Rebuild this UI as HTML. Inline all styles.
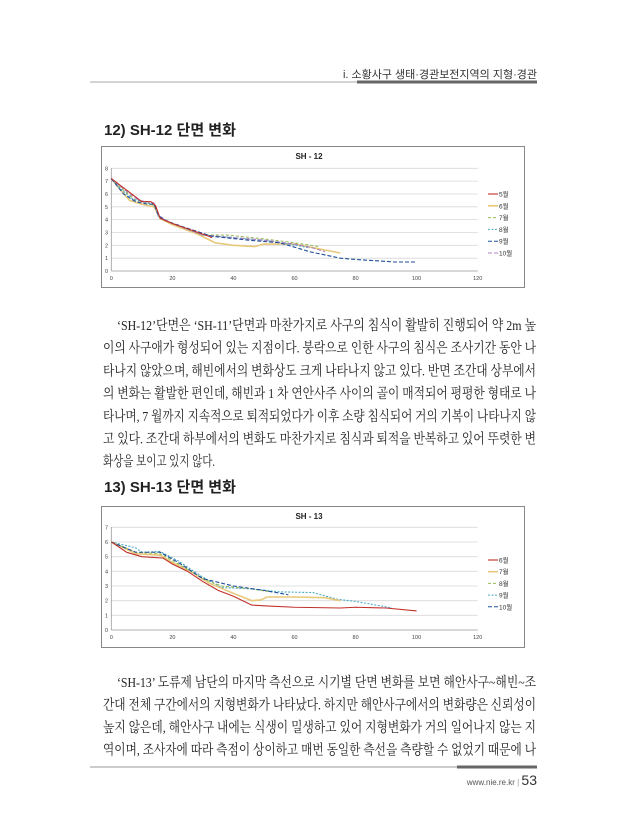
<!DOCTYPE html>
<html><head><meta charset="utf-8">
<style>
html,body{margin:0;padding:0;background:#fff;}
body{width:619px;height:840px;position:relative;overflow:hidden;}
.t{position:absolute;white-space:nowrap;}
.sans{font-family:"Liberation Sans","Noto Sans CJK KR",sans-serif;}
.h{position:absolute;left:104px;font-size:15px;font-weight:bold;color:#222;font-family:"Liberation Sans","Noto Sans CJK KR",sans-serif;}
</style></head><body>
<svg width="619" height="840" style="position:absolute;left:0;top:0" xmlns="http://www.w3.org/2000/svg">
<line x1="90" y1="82" x2="537" y2="82" stroke="#aaa" stroke-width="1"/>
<line x1="357" y1="82" x2="537" y2="82" stroke="#666" stroke-width="3"/>
<line x1="90" y1="767" x2="537" y2="767" stroke="#999" stroke-width="1"/>
<line x1="457" y1="767" x2="537" y2="767" stroke="#666" stroke-width="3"/>

<g font-family="Liberation Serif,'Noto Serif CJK SC','Noto Serif CJK KR',serif" font-size="14" fill="#222" lengthAdjust="spacingAndGlyphs">
<text x="117" y="330" textLength="419" lengthAdjust="spacingAndGlyphs">‘SH-12’단면은 ‘SH-11’단면과 마찬가지로 사구의 침식이 활발히 진행되어 약 2m 높</text>
<text x="103" y="352.7" textLength="433" lengthAdjust="spacingAndGlyphs">이의 사구애가 형성되어 있는 지점이다. 붕락으로 인한 사구의 침식은 조사기간 동안 나</text>
<text x="103" y="375.4" textLength="433" lengthAdjust="spacingAndGlyphs">타나지 않았으며, 해빈에서의 변화상도 크게 나타나지 않고 있다. 반면 조간대 상부에서</text>
<text x="103" y="398.1" textLength="433" lengthAdjust="spacingAndGlyphs">의 변화는 활발한 편인데, 해빈과 1 차 연안사주 사이의 골이 매적되어 평평한 형태로 나</text>
<text x="103" y="420.8" textLength="433" lengthAdjust="spacingAndGlyphs">타나며, 7 월까지 지속적으로 퇴적되었다가 이후 소량 침식되어 거의 기복이 나타나지 않</text>
<text x="103" y="443.5" textLength="433" lengthAdjust="spacingAndGlyphs">고 있다. 조간대 하부에서의 변화도 마찬가지로 침식과 퇴적을 반복하고 있어 뚜렷한 변</text>
<text x="103" y="466.2" textLength="112" lengthAdjust="spacingAndGlyphs">화상을 보이고 있지 않다.</text>
<text x="117" y="687" textLength="419" lengthAdjust="spacingAndGlyphs">‘SH-13’ 도류제 남단의 마지막 측선으로 시기별 단면 변화를 보면 해안사구~해빈~조</text>
<text x="103" y="709.5" textLength="433" lengthAdjust="spacingAndGlyphs">간대 전체 구간에서의 지형변화가 나타났다. 하지만 해안사구에서의 변화량은 신뢰성이</text>
<text x="103" y="732" textLength="433" lengthAdjust="spacingAndGlyphs">높지 않은데, 해안사구 내에는 식생이 밀생하고 있어 지형변화가 거의 일어나지 않는 지</text>
<text x="103" y="754.5" textLength="433" lengthAdjust="spacingAndGlyphs">역이며, 조사자에 따라 측점이 상이하고 매번 동일한 측선을 측량할 수 없었기 때문에 나</text>
</g>

<!-- Chart 1 -->
<rect x="101.5" y="146.5" width="423" height="141" fill="#fff" stroke="#888"/>
<text x="309" y="159" font-family="Liberation Sans,sans-serif" font-size="8" font-weight="bold" text-anchor="middle" fill="#222">SH - 12</text>
<g stroke="#d8d8d8" stroke-width="0.8">
<line x1="111.3" x2="477.7" y1="168.3" y2="168.3"/><line x1="111.3" x2="477.7" y1="181.1" y2="181.1"/><line x1="111.3" x2="477.7" y1="194" y2="194"/><line x1="111.3" x2="477.7" y1="206.8" y2="206.8"/><line x1="111.3" x2="477.7" y1="219.6" y2="219.6"/><line x1="111.3" x2="477.7" y1="232.5" y2="232.5"/><line x1="111.3" x2="477.7" y1="245.3" y2="245.3"/><line x1="111.3" x2="477.7" y1="258.2" y2="258.2"/>
</g>
<line x1="111.3" y1="168" x2="111.3" y2="271" stroke="#999" stroke-width="0.8"/>
<line x1="111.3" y1="271" x2="477.7" y2="271" stroke="#999" stroke-width="0.8"/>
<g font-family="Liberation Sans,sans-serif" font-size="5.5" fill="#444" text-anchor="end">
<text x="108" y="273">0</text><text x="108" y="260">1</text><text x="108" y="247.3">2</text><text x="108" y="234.5">3</text><text x="108" y="221.6">4</text><text x="108" y="208.8">5</text><text x="108" y="196">6</text><text x="108" y="183.1">7</text><text x="108" y="170.3">8</text>
</g>
<g font-family="Liberation Sans,sans-serif" font-size="5.5" fill="#444" text-anchor="middle">
<text x="111.3" y="280">0</text><text x="172.4" y="280">20</text><text x="233.4" y="280">40</text><text x="294.5" y="280">60</text><text x="355.6" y="280">80</text><text x="416.6" y="280">100</text><text x="477.7" y="280">120</text>
</g>
<g transform="translate(111.3,271) scale(3.053,-12.84)" fill="none" stroke-width="1.1">
<polyline vector-effect="non-scaling-stroke" stroke="#e8c97a" stroke-width="1.6" points="0,7.2 2,6.6 6,5.5 10,5.2 14,5 16,4.1 20,3.6 28,2.9 34,2.2 40,2 47,1.9 50,2.1 60,2.1 75,1.4"/>
<polyline vector-effect="non-scaling-stroke" stroke="#9bbb59" stroke-dasharray="3,2" points="0,7.2 4,6.3 8,5.5 12,5.3 14,5.1 16,4.1 20,3.7 30,2.8 38,2.8 50,2.5 60,2.2 68,1.9"/>
<polyline vector-effect="non-scaling-stroke" stroke="#4bacc6" stroke-dasharray="2,1.5" points="0,7.2 3,6.4 7,5.6 12,5.3 14,5.2 15.5,4.2 20,3.7 30,2.8 40,2.6 50,2.4 58,2.1 65,1.8"/>
<polyline vector-effect="non-scaling-stroke" stroke="#b07fc0" stroke-dasharray="4,2" points="0,7.2 5,6.2 9,5.5 12,5.4 14,5.3 15.5,4.3 20,3.7 30,2.8 40,2.6 50,2.4 60,2.1 66,1.8 70,1.5"/>
<polyline vector-effect="non-scaling-stroke" stroke="#1f4e9a" stroke-dasharray="4,2" points="0,7.2 4,6 8,5.4 12,5.2 14,5.2 15.5,4.3 18,3.9 24,3.4 33,2.7 45,2.4 55,2.2 58,2 65,1.5 75,1 80,0.9 93,0.7 100,0.7"/>
<polyline vector-effect="non-scaling-stroke" stroke="#c0302b" points="0,7.2 10,5.4 13,5.4 14.5,5.1 16,4.1 20,3.7 26,3.2 32,2.7 33,2.6"/>
</g>
<g font-family="Liberation Sans,'Noto Sans CJK KR',sans-serif" font-size="6.5" fill="#333">
<line x1="488" y1="194" x2="498" y2="194" stroke="#c0302b" stroke-width="1.1"/><text x="499" y="196.5">5월</text>
<line x1="488" y1="205.8" x2="498" y2="205.8" stroke="#e8c97a" stroke-width="1.6"/><text x="499" y="208.3">6월</text>
<line x1="488" y1="217.6" x2="498" y2="217.6" stroke="#9bbb59" stroke-dasharray="3,2"/><text x="499" y="220.1">7월</text>
<line x1="488" y1="229.4" x2="498" y2="229.4" stroke="#4bacc6" stroke-dasharray="2,1.5"/><text x="499" y="231.9">8월</text>
<line x1="488" y1="241.2" x2="498" y2="241.2" stroke="#1f4e9a" stroke-dasharray="4,2"/><text x="499" y="243.7">9월</text>
<line x1="488" y1="253" x2="498" y2="253" stroke="#b07fc0" stroke-dasharray="4,2"/><text x="499" y="255.5">10월</text>
</g>

<!-- Chart 2 -->
<rect x="101.5" y="506.5" width="423" height="141" fill="#fff" stroke="#888"/>
<text x="309" y="519" font-family="Liberation Sans,sans-serif" font-size="8" font-weight="bold" text-anchor="middle" fill="#222">SH - 13</text>
<g stroke="#d8d8d8" stroke-width="0.8">
<line x1="111.3" x2="477.7" y1="527.3" y2="527.3"/><line x1="111.3" x2="477.7" y1="542" y2="542"/><line x1="111.3" x2="477.7" y1="556.7" y2="556.7"/><line x1="111.3" x2="477.7" y1="571.3" y2="571.3"/><line x1="111.3" x2="477.7" y1="586" y2="586"/><line x1="111.3" x2="477.7" y1="600.7" y2="600.7"/><line x1="111.3" x2="477.7" y1="615.3" y2="615.3"/>
</g>
<line x1="111.3" y1="527" x2="111.3" y2="630" stroke="#999" stroke-width="0.8"/>
<line x1="111.3" y1="630" x2="477.7" y2="630" stroke="#999" stroke-width="0.8"/>
<g font-family="Liberation Sans,sans-serif" font-size="5.5" fill="#444" text-anchor="end">
<text x="108" y="632">0</text><text x="108" y="617.3">1</text><text x="108" y="602.7">2</text><text x="108" y="588">3</text><text x="108" y="573.3">4</text><text x="108" y="558.7">5</text><text x="108" y="544">6</text><text x="108" y="529.3">7</text>
</g>
<g font-family="Liberation Sans,sans-serif" font-size="5.5" fill="#444" text-anchor="middle">
<text x="111.3" y="639">0</text><text x="172.4" y="639">20</text><text x="233.4" y="639">40</text><text x="294.5" y="639">60</text><text x="355.6" y="639">80</text><text x="416.6" y="639">100</text><text x="477.7" y="639">120</text>
</g>
<g transform="translate(111.3,630) scale(3.053,-14.67)" fill="none" stroke-width="1.1">
<polyline vector-effect="non-scaling-stroke" stroke="#4bacc6" stroke-dasharray="2,1.5" points="0,6 8,5.6 10,5.3 16,5.35 22,4.7 30,3.6 36,2.9 46,2.8 55,2.6 66,2.55 74,2.1 80,1.95 92,1.5"/>
<polyline vector-effect="non-scaling-stroke" stroke="#e8c97a" stroke-width="1.6" points="0,6 8,5.2 16,5.1 20,4.6 26,4 32,3.2 40,2.5 46,2 49,2.05 51,2.25 60,2.25 70,2.2 75,2"/>
<polyline vector-effect="non-scaling-stroke" stroke="#9bbb59" stroke-dasharray="3,2" points="0,6 8,5.3 16,5.2 22,4.5 30,3.5 36,3 46,2.8 52,2.6"/>
<polyline vector-effect="non-scaling-stroke" stroke="#1f4e9a" stroke-dasharray="4,2" points="0,6 8,5.3 16,5.3 22,4.6 30,3.5 40,3 50,2.7 58,2.4"/>
<polyline vector-effect="non-scaling-stroke" stroke="#c0302b" points="0,6 5,5.3 10,5 17,4.9 20,4.5 25,4 30,3.3 35,2.7 40,2.3 46,1.7 50,1.65 60,1.55 75,1.5 80,1.55 90,1.5 100,1.3"/>
</g>
<g font-family="Liberation Sans,'Noto Sans CJK KR',sans-serif" font-size="6.5" fill="#333">
<line x1="488" y1="560" x2="498" y2="560" stroke="#c0302b" stroke-width="1.1"/><text x="499" y="562.5">6월</text>
<line x1="488" y1="571.7" x2="498" y2="571.7" stroke="#e8c97a" stroke-width="1.6"/><text x="499" y="574.2">7월</text>
<line x1="488" y1="583.4" x2="498" y2="583.4" stroke="#9bbb59" stroke-dasharray="3,2"/><text x="499" y="585.9">8월</text>
<line x1="488" y1="595.1" x2="498" y2="595.1" stroke="#4bacc6" stroke-dasharray="2,1.5"/><text x="499" y="597.6">9월</text>
<line x1="488" y1="606.8" x2="498" y2="606.8" stroke="#1f4e9a" stroke-dasharray="4,2"/><text x="499" y="609.3">10월</text>
</g>
</svg>

<div class="t sans" style="right:82px;top:66px;font-size:11px;color:#333;">i. 소황사구 생태·경관보전지역의 지형·경관</div>
<div class="h" style="top:119px;">12) SH-12 단면 변화</div>
<div class="h" style="top:476px;">13) SH-13 단면 변화</div>

<div class="t sans" style="right:82px;top:772px;font-size:8px;color:#555;">www.nie.re.kr <span style="color:#999">|</span> <span style="font-size:14px;color:#333;">53</span></div>
</body></html>
